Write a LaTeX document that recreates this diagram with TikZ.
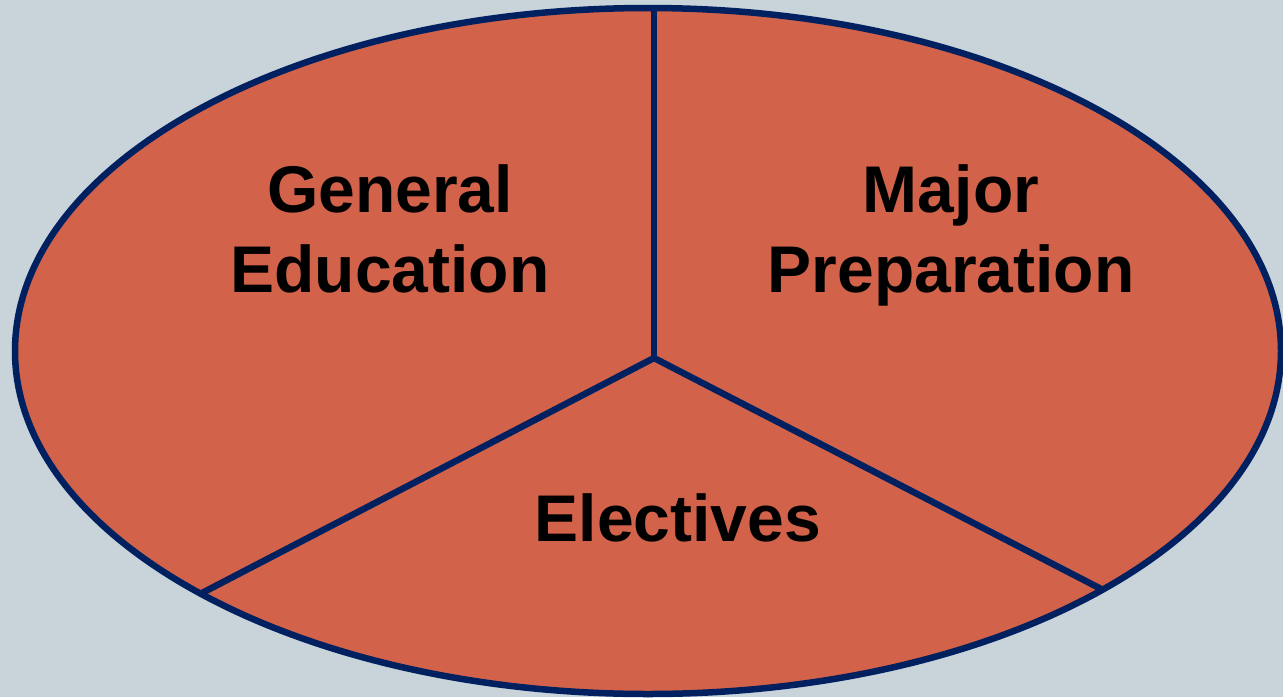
\documentclass[tikz,border=0pt]{standalone}
\usepackage{fontspec}
\usetikzlibrary{calc}
\setmainfont{Liberation Sans}
\definecolor{bgc}{HTML}{C8D3DA}
\definecolor{fillc}{HTML}{D2634A}
\definecolor{navy}{HTML}{002060}
\begin{document}
\begin{tikzpicture}[x=1pt,y=-1pt,
  lbl/.style={align=center,anchor=base,font=\fontsize{66}{80}\selectfont\bfseries,text=black,inner sep=0pt},
  sep/.style={draw=navy,line width=6.5pt}]
\fill[bgc] (0,0) rectangle (1283,697);
\useasboundingbox (0,0) rectangle (1283,697);
\coordinate (c) at (648,351);
\coordinate (hub) at (654,358);
\coordinate (top) at (654,0);
\coordinate (bl) at (202,593);
\coordinate (br) at (1107,592);
\fill[fillc] (c) ellipse [x radius=633, y radius=343];
\begin{scope}
\clip (c) ellipse [x radius=633, y radius=343];
\draw[sep] (hub) -- (top);
\draw[sep] (hub) -- ($(hub)!1.2!(bl)$);
\draw[sep] (hub) -- ($(hub)!1.2!(br)$);
\end{scope}
\draw[draw=navy,line width=6.5pt] (c) ellipse [x radius=633, y radius=343];
\node[lbl] (gen) at (390,292) {General\\Education};
\node[lbl] (maj) at (951,292) {Major\\Preparation};
\node[lbl] (ele) at (678,541) {Electives};
\end{tikzpicture}
\end{document}
